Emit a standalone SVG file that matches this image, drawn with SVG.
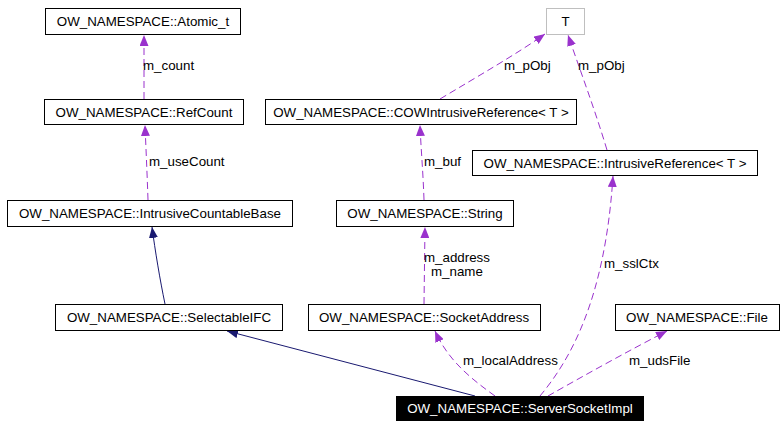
<svg xmlns="http://www.w3.org/2000/svg" width="784" height="427" viewBox="0 0 784 427">
<style>
text{font-family:"Liberation Sans",Arial,sans-serif;font-size:13.33px;fill:#000}
.n rect{fill:#fff;stroke:#000;stroke-width:1}
.n text{text-anchor:middle}
.u{fill:none;stroke:#9a32cd;stroke-width:1;stroke-dasharray:7,4}
.i{fill:none;stroke:#191970;stroke-width:1}
</style>
<defs>
<marker id="pa" markerUnits="userSpaceOnUse" markerWidth="11" markerHeight="9" refX="11" refY="4.5" orient="auto"><path d="M0,0 L11,4.5 L0,9 z" fill="#9a32cd"/></marker>
<marker id="ia" markerUnits="userSpaceOnUse" markerWidth="11" markerHeight="9" refX="11" refY="4.5" orient="auto"><path d="M0,0 L11,4.5 L0,9 z" fill="#191970"/></marker>
</defs>
<rect width="784" height="427" fill="#fff"/>
<g id="edges">
<path class="u" d="M144,99 L144,35" marker-end="url(#pa)"/>
<path class="u" d="M148,200 C147,170 146,150 145,125" marker-end="url(#pa)"/>
<path class="i" d="M165,304 C160,280 155,250 152,227" marker-end="url(#ia)"/>
<path class="i" d="M475,396 L227,331" marker-end="url(#ia)"/>
<path class="u" d="M440,99 C480,75 515,55 545,34" marker-end="url(#pa)"/>
<path class="u" d="M607,150 C595,110 580,70 568,35" marker-end="url(#pa)"/>
<path class="u" d="M424,200 C423,170 421,150 420,125" marker-end="url(#pa)"/>
<path class="u" d="M424,304 L425,227" marker-end="url(#pa)"/>
<path class="u" d="M540,396 C570,360 605,300 613,176" marker-end="url(#pa)"/>
<path class="u" d="M548,396 C585,375 630,350 667,331" marker-end="url(#pa)"/>
<path class="u" d="M495,396 C470,378 448,360 435,331" marker-end="url(#pa)"/>
</g>
<g id="labels">
<text x="143" y="70">m_count</text>
<text x="149" y="166">m_useCount</text>
<text x="504" y="70">m_pObj</text>
<text x="578" y="70">m_pObj</text>
<text x="424" y="166">m_buf</text>
<text x="424" y="262">m_address</text>
<text x="431" y="276">m_name</text>
<text x="604" y="268">m_sslCtx</text>
<text x="463" y="365">m_localAddress</text>
<text x="629" y="365">m_udsFile</text>
</g>
<g id="atomic" class="n"><rect x="45.5" y="8.5" width="195" height="26"/><text x="143" y="26">OW_NAMESPACE::Atomic_t</text></g>
<g id="refcount" class="n"><rect x="44.5" y="99.5" width="199" height="25"/><text x="144" y="116.5">OW_NAMESPACE::RefCount</text></g>
<g id="icb" class="n"><rect x="7.5" y="200.5" width="285" height="26"/><text x="150" y="218">OW_NAMESPACE::IntrusiveCountableBase</text></g>
<g id="selectable" class="n"><rect x="55.5" y="304.5" width="227" height="26"/><text x="169" y="322">OW_NAMESPACE::SelectableIFC</text></g>
<g id="T" class="n"><rect x="546.5" y="8.5" width="38" height="26" style="stroke:#bfbfbf"/><text x="565.5" y="26">T</text></g>
<g id="cow" class="n"><rect x="265.5" y="99.5" width="311" height="25"/><text x="421" y="116.5">OW_NAMESPACE::COWIntrusiveReference&lt; T &gt;</text></g>
<g id="intref" class="n"><rect x="472.5" y="150.5" width="285" height="25"/><text x="615" y="167.5">OW_NAMESPACE::IntrusiveReference&lt; T &gt;</text></g>
<g id="string" class="n"><rect x="336.5" y="200.5" width="177" height="26"/><text x="425" y="218">OW_NAMESPACE::String</text></g>
<g id="sockaddr" class="n"><rect x="308.5" y="304.5" width="232" height="26"/><text x="424" y="322">OW_NAMESPACE::SocketAddress</text></g>
<g id="file" class="n"><rect x="615.5" y="304.5" width="164" height="26"/><text x="697" y="322">OW_NAMESPACE::File</text></g>
<g id="server" class="n"><rect x="396.5" y="396.5" width="247" height="24" style="fill:#000"/><text x="520" y="413" style="fill:#fff">OW_NAMESPACE::ServerSocketImpl</text></g>
</svg>
